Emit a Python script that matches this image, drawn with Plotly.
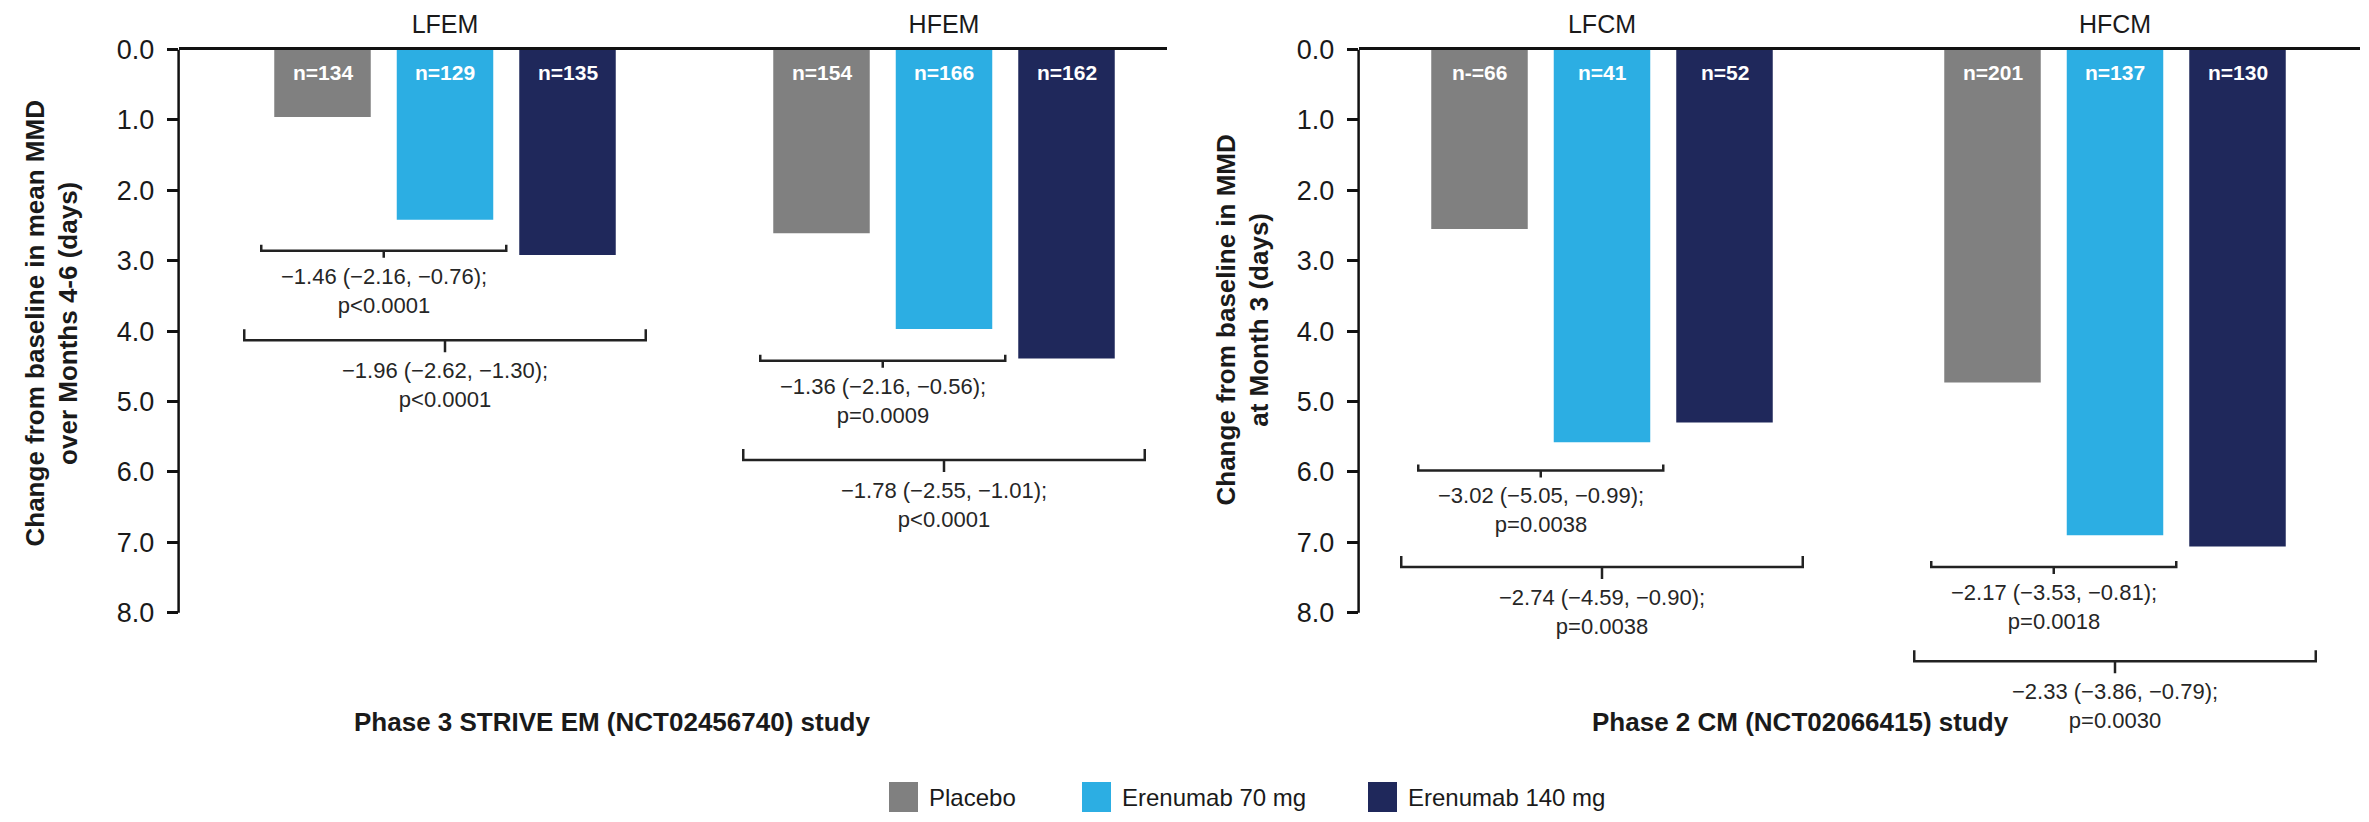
import plotly.graph_objects as go

W, H = 2369, 822

# ---------------- data ----------------
series = ["Placebo", "Erenumab 70 mg", "Erenumab 140 mg"]
colors = ["#808080", "#2CAEE3", "#1F285B"]

em_groups = ["LFEM", "HFEM"]
em_placebo = [0.96, 2.61]
em_70 = [2.42, 3.97]
em_140 = [2.92, 4.39]
em_n_placebo = ["n=134", "n=154"]
em_n_70 = ["n=129", "n=166"]
em_n_140 = ["n=135", "n=162"]

cm_groups = ["LFCM", "HFCM"]
cm_placebo = [2.55, 4.73]
cm_70 = [5.58, 6.90]
cm_140 = [5.30, 7.06]
cm_n_placebo = ["n-=66", "n=201"]
cm_n_70 = ["n=41", "n=137"]
cm_n_140 = ["n=52", "n=130"]

tick_vals = [0, 1, 2, 3, 4, 5, 6, 7, 8]

# comparisons: (group index, compared series index, bracket level, label)
em_brackets = [
    (0, 1, 2.86, "−1.46 (−2.16, −0.76);<br>p&lt;0.0001"),
    (0, 2, 4.13, "−1.96 (−2.62, −1.30);<br>p&lt;0.0001"),
    (1, 1, 4.42, "−1.36 (−2.16, −0.56);<br>p=0.0009"),
    (1, 2, 5.83, "−1.78 (−2.55, −1.01);<br>p&lt;0.0001"),
]
cm_brackets = [
    (0, 1, 5.98, "−3.02 (−5.05, −0.99);<br>p=0.0038"),
    (0, 2, 7.35, "−2.74 (−4.59, −0.90);<br>p=0.0038"),
    (1, 1, 7.35, "−2.17 (−3.53, −0.81);<br>p=0.0018"),
    (1, 2, 8.69, "−2.33 (−3.86, −0.79);<br>p=0.0030"),
]

em_title = "Phase 3 STRIVE EM (NCT02456740) study"
cm_title = "Phase 2 CM (NCT02066415) study"
em_ytitle = "Change from baseline in mean MMD<br>over Months 4-6 (days)"
cm_ytitle = "Change from baseline in MMD<br>at Month 3 (days)"

# ---------------- layout geometry ----------------
FONT = "Liberation Sans, Arial, sans-serif"
TXT = "#1a1a1a"
SLOT_PX = 122.5
BAR_PX = 96.5
PX_PER_UNIT_Y = 70.4
Y_TOP_PX = 49.5
Y_MAX = 9.7

panels = [
    dict(groups=em_groups, vals=[em_placebo, em_70, em_140],
         ns=[em_n_placebo, em_n_70, em_n_140], brackets=em_brackets,
         xl=178.6, xr=1167.0, c0=445.0, unit=499.0, xa="x", ya="y",
         title=em_title, title_x=612, ytitle=em_ytitle, ytitle_x=51.5, ytitle_y=324),
    dict(groups=cm_groups, vals=[cm_placebo, cm_70, cm_140],
         ns=[cm_n_placebo, cm_n_70, cm_n_140], brackets=cm_brackets,
         xl=1358.6, xr=2360.0, c0=1602.0, unit=513.0, xa="x2", ya="y2",
         title=cm_title, title_x=1800, ytitle=cm_ytitle, ytitle_x=1242.5, ytitle_y=320),
]

fig = go.Figure()
shapes = []
annotations = []

y_dom_top = 1 - Y_TOP_PX / H
y_dom_bot = 1 - (Y_TOP_PX + Y_MAX * PX_PER_UNIT_Y) / H

for p in panels:
    unit = p["unit"]
    slot = SLOT_PX / unit
    w = BAR_PX / unit
    xpos = list(range(len(p["groups"])))
    for k, (name, col) in enumerate(zip(series, colors)):
        fig.add_trace(go.Bar(
            x=xpos, y=p["vals"][k], name=name, marker=dict(color=col, line=dict(width=0)),
            width=w, offset=(k - 1) * slot - w / 2, xaxis=p["xa"], yaxis=p["ya"],
            showlegend=False, hoverinfo="skip"))
        for gi, lab in enumerate(p["ns"][k]):
            annotations.append(dict(
                x=gi + (k - 1) * slot, y=23.0 / PX_PER_UNIT_Y, xref=p["xa"], yref=p["ya"],
                text=f"<b>{lab}</b>", showarrow=False, xanchor="center", yanchor="middle",
                font=dict(family=FONT, size=21, color="white")))

    # brackets
    for gi, si, lvl, lab in p["brackets"]:
        small = si == 1
        pad = (13.0 if small else 30.0) / unit
        up = (6.0 if small else 11.0) / PX_PER_UNIT_Y
        nub = (7.0 if small else 12.0) / PX_PER_UNIT_Y
        x0 = gi - slot - w / 2 - pad
        x1 = gi + (si - 1) * slot + w / 2 + pad
        xc = (x0 + x1) / 2
        path = (f"M {x0},{lvl - up} L {x0},{lvl} L {x1},{lvl} L {x1},{lvl - up} "
                f"M {xc},{lvl} L {xc},{lvl + nub}")
        shapes.append(dict(type="path", path=path, xref=p["xa"], yref=p["ya"],
                           line=dict(color="#222222", width=2.5)))
        annotations.append(dict(
            x=xc, y=lvl + nub + 33.0 / PX_PER_UNIT_Y, xref=p["xa"], yref=p["ya"],
            text=lab, showarrow=False,
            xanchor="center", yanchor="middle", align="center",
            font=dict(family=FONT, size=22, color="#262626")))

    # y axis line from 0 to 8 only
    shapes.append(dict(type="line", xref=p["xa"] + " domain", yref=p["ya"],
                       x0=0, x1=0, y0=0, y1=tick_vals[-1],
                       line=dict(color="#111111", width=2.5)))

    xdom = [p["xl"] / W, p["xr"] / W]
    xr = [(p["xl"] - p["c0"]) / unit, (p["xr"] - p["c0"]) / unit]
    xkey = "xaxis" if p["xa"] == "x" else "xaxis2"
    ykey = "yaxis" if p["ya"] == "y" else "yaxis2"
    fig.update_layout(**{
        xkey: dict(domain=xdom, range=xr, side="top", tickvals=xpos, ticktext=p["groups"],
                   ticks="", showline=True, linewidth=2.5, linecolor="#111111",
                   showgrid=False, zeroline=False, anchor=p["ya"], ticklabelstandoff=4,
                   automargin=False, fixedrange=True,
                   tickfont=dict(family=FONT, size=25, color=TXT)),
        ykey: dict(domain=[y_dom_bot, y_dom_top], range=[Y_MAX, 0], tickvals=tick_vals,
                   tickformat=".1f", ticks="outside", ticklen=11, tickwidth=2.5,
                   tickcolor="#111111", showline=False, showgrid=False, zeroline=False,
                   anchor=p["xa"], ticklabelstandoff=7, automargin=False, fixedrange=True,
                   tickfont=dict(family=FONT, size=27, color=TXT)),
    })

    annotations.append(dict(
        x=p["ytitle_x"] / W, y=1 - p["ytitle_y"] / H, xref="paper", yref="paper",
        text=f"<b>{p['ytitle']}</b>", textangle=-90, showarrow=False,
        xanchor="center", yanchor="middle", align="center",
        font=dict(family=FONT, size=26, color=TXT)))
    annotations.append(dict(
        x=p["title_x"] / W, y=1 - 722 / H, xref="paper", yref="paper",
        text=f"<b>{p['title']}</b>", showarrow=False, xanchor="center", yanchor="middle",
        font=dict(family=FONT, size=26, color=TXT)))

# legend (drawn manually to match the large swatches)
legend_x = [889, 1082, 1368]
for lx, name, col in zip(legend_x, series, colors):
    shapes.append(dict(type="rect", xref="paper", yref="paper",
                       x0=lx / W, x1=(lx + 29) / W, y0=1 - 812 / H, y1=1 - 782 / H,
                       fillcolor=col, line=dict(width=0)))
    annotations.append(dict(x=(lx + 38) / W, y=1 - 797 / H, xref="paper", yref="paper",
                            text=name, showarrow=False, xanchor="left", yanchor="middle",
                            font=dict(family=FONT, size=24, color=TXT)))

fig.update_layout(
    width=W, height=H, margin=dict(l=0, r=0, t=0, b=0, autoexpand=False),
    plot_bgcolor="white", paper_bgcolor="white", showlegend=False,
    barmode="overlay", font=dict(family=FONT, color=TXT),
    shapes=shapes, annotations=annotations,
)

fig.write_html("out.html", config={"displayModeBar": False},
               post_script="document.body.style.margin='0';")
